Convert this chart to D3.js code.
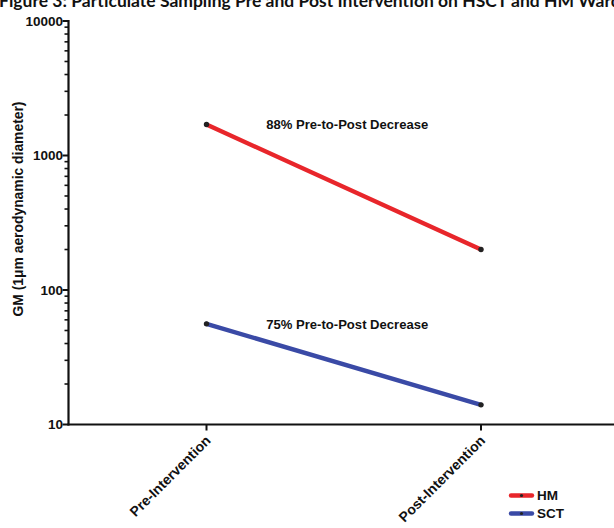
<!DOCTYPE html>
<html><head><meta charset="utf-8">
<script src="https://cdn.jsdelivr.net/npm/d3@7"></script>
<style>
html,body{margin:0;padding:0;background:#fff;overflow:hidden}
svg{display:block}
</style></head>
<body>
<script>
const categories = ["Pre-Intervention", "Post-Intervention"];
const seriesNames = ["HM", "SCT"];
const hmValues = [1700, 200];
const sctValues = [56, 14];
const yTickValues = [10, 100, 1000, 10000];
const annotations = ["88% Pre-to-Post Decrease", "75% Pre-to-Post Decrease"];
const titleText = "Figure 3:  Particulate Sampling Pre and Post Intervention on HSCT and HM Wards";
const yLabel = "GM (1\u03BCm aerodynamic diameter)";

const W = 614, H = 528;
const colors = {HM: "#e8262b", SCT: "#3a4aa6"};
const svg = d3.select("body").append("svg").attr("width", W).attr("height", H);

const font = "'Liberation Sans', Arial, sans-serif";
const y = d3.scaleLog().domain([10, 10000]).range([424.5, 21]);
const x = d3.scalePoint().domain(categories).range([206.5, 481]);
const axisX = 68.5;

// title (cut off at top, as in the reference)
svg.append("text").attr("x", -1).attr("y", 6.5)
  .attr("font-family", "Lato, 'Open Sans', sans-serif").attr("font-weight", "bold")
  .attr("font-size", 17.5).attr("fill", "#111").text(titleText);

// y axis
const minor = [];
for (let d = 10; d < 10000; d *= 10) for (let k = 2; k <= 9; k++) minor.push(d * k);
const gy = svg.append("g").attr("transform", `translate(${axisX},0)`);
gy.append("line").attr("x1", 0).attr("x2", 0).attr("y1", y(10000) - 1).attr("y2", y(10) + 1)
  .attr("stroke", "#111").attr("stroke-width", 2.2);
gy.selectAll(".mj").data(yTickValues).enter().append("line")
  .attr("x1", -6).attr("x2", 0).attr("y1", d => y(d)).attr("y2", d => y(d))
  .attr("stroke", "#111").attr("stroke-width", 2);
gy.selectAll(".mn").data(minor).enter().append("line")
  .attr("x1", -4).attr("x2", 0).attr("y1", d => y(d)).attr("y2", d => y(d))
  .attr("stroke", "#111").attr("stroke-width", 1.6);
gy.selectAll(".tl").data(yTickValues).enter().append("text")
  .attr("x", -5.5).attr("y", d => y(d)).attr("dy", "0.36em")
  .attr("text-anchor", "end").attr("font-family", font).attr("font-weight", "bold")
  .attr("font-size", 13.5).attr("fill", "#111").text(d => d);

// y label
svg.append("text").attr("transform", `translate(23,209) rotate(-90)`)
  .attr("text-anchor", "middle").attr("font-family", font).attr("font-weight", "bold")
  .attr("font-size", 15).attr("fill", "#111")
  .attr("textLength", 215).attr("lengthAdjust", "spacingAndGlyphs").text(yLabel);

// x axis
svg.append("line").attr("x1", axisX - 1).attr("x2", W).attr("y1", y(10)).attr("y2", y(10))
  .attr("stroke", "#111").attr("stroke-width", 2.2);
svg.selectAll(".xt").data(categories).enter().append("line")
  .attr("x1", d => x(d)).attr("x2", d => x(d)).attr("y1", y(10)).attr("y2", y(10) + 6)
  .attr("stroke", "#111").attr("stroke-width", 2);
svg.selectAll(".xl").data(categories).enter().append("text")
  .attr("transform", d => `translate(${x(d) + 5},${y(10) + 17}) rotate(-45)`)
  .attr("text-anchor", "end").attr("font-family", font).attr("font-weight", "bold")
  .attr("font-size", 14).attr("fill", "#111").text(d => d);

// series
const series = [
  {name: "HM", values: hmValues},
  {name: "SCT", values: sctValues}
];
const line = d3.line().x((d, i) => x(categories[i])).y(d => y(d));
series.forEach(s => {
  svg.append("path").attr("d", line(s.values)).attr("fill", "none")
    .attr("stroke", colors[s.name]).attr("stroke-width", 4.4).attr("stroke-linecap", "round");
  svg.selectAll(null).data(s.values).enter().append("circle")
    .attr("cx", (d, i) => x(categories[i])).attr("cy", d => y(d)).attr("r", 2.7)
    .attr("fill", "#222");
});

// annotations
const annoY = [hmValues[0], sctValues[0]];
annotations.forEach((a, i) => {
  svg.append("text").attr("x", (x(categories[0]) + x(categories[1])) / 2 + 3.5)
    .attr("y", y(annoY[i])).attr("dy", "0.36em")
    .attr("text-anchor", "middle").attr("font-family", font).attr("font-weight", "bold")
    .attr("font-size", 13.5).attr("fill", "#111")
    .attr("textLength", 162).attr("lengthAdjust", "spacingAndGlyphs").text(a);
});

// legend
const lg = svg.append("g");
seriesNames.forEach((n, i) => {
  const ly = 495.5 + i * 18;
  lg.append("line").attr("x1", 511).attr("x2", 532).attr("y1", ly).attr("y2", ly)
    .attr("stroke", colors[n]).attr("stroke-width", 4.4).attr("stroke-linecap", "round");
  lg.append("circle").attr("cx", 521.5).attr("cy", ly).attr("r", 1.6).attr("fill", "#222");
  lg.append("text").attr("x", 537).attr("y", ly).attr("dy", "0.36em")
    .attr("font-family", font).attr("font-weight", "bold").attr("font-size", 13.5)
    .attr("fill", "#111").text(n);
});
</script>
</body></html>
